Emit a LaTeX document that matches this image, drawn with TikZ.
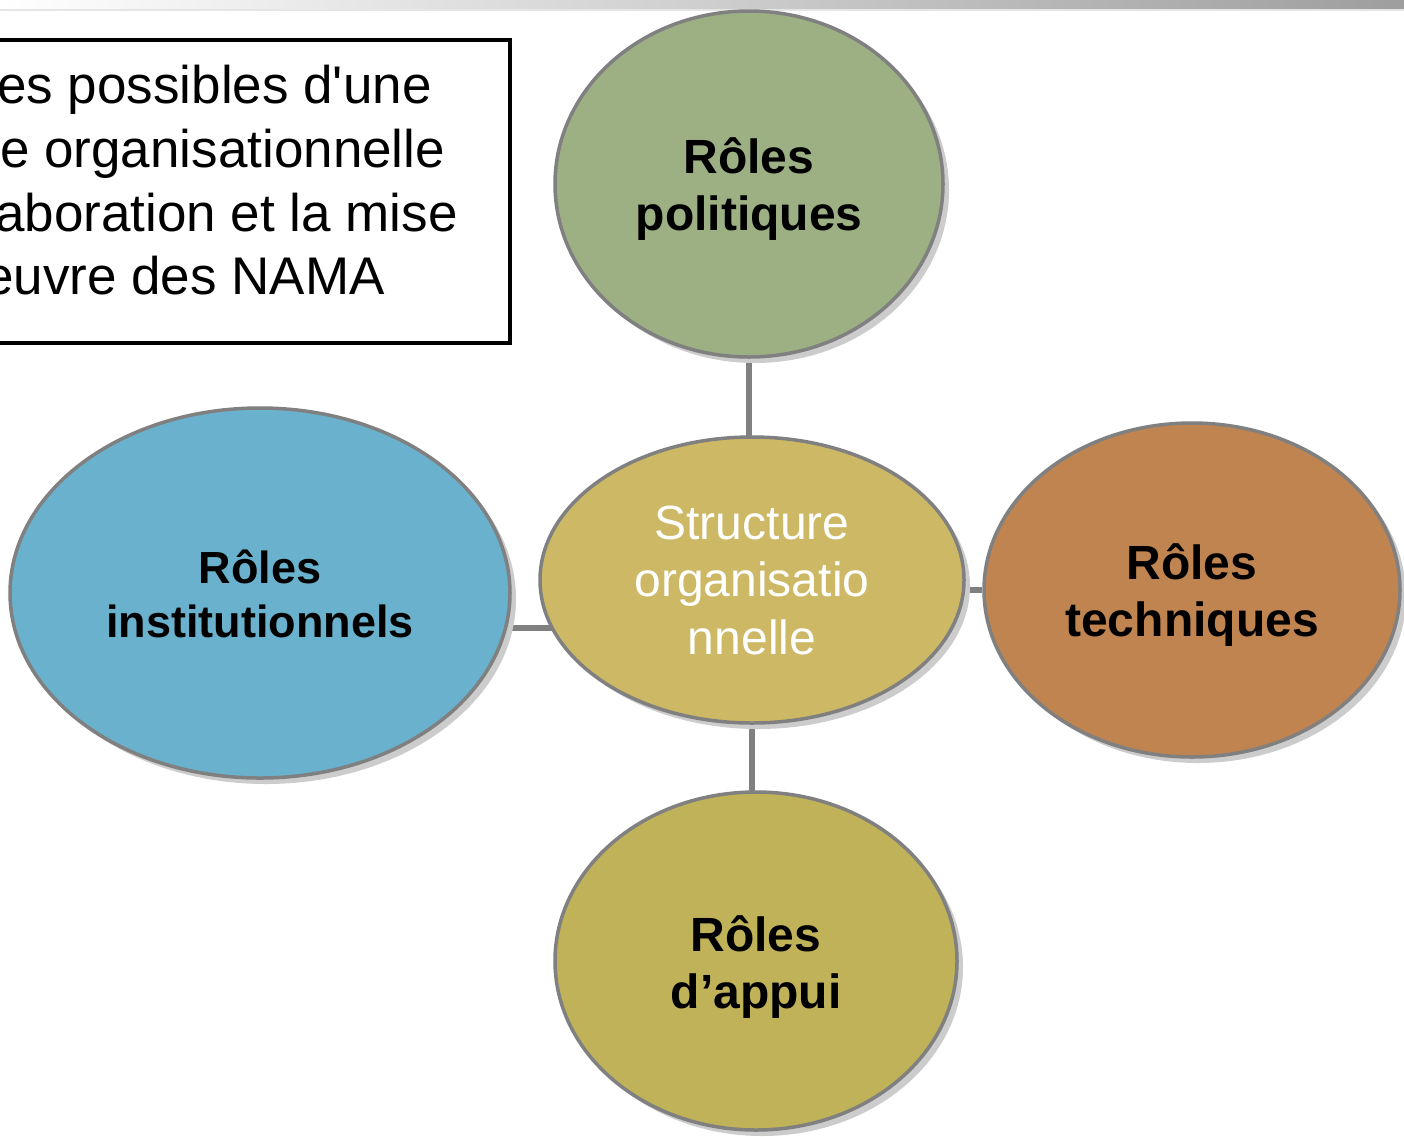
\documentclass[tikz,border=0pt]{standalone}
\usepackage{fontspec}
\setmainfont{Liberation Sans}[Ligatures=TeXOff]
\usetikzlibrary{shapes.geometric,shadows,backgrounds}
\definecolor{cpol}{RGB}{157,176,131}
\definecolor{cstr}{RGB}{205,185,101}
\definecolor{cins}{RGB}{105,177,204}
\definecolor{ctec}{RGB}{192,132,81}
\definecolor{capp}{RGB}{191,178,89}
\definecolor{cedge}{RGB}{128,128,128}
\tikzset{
  role/.style={ellipse, draw=cedge, line width=3.5pt, inner sep=0pt,
    drop shadow={shadow xshift=6pt, shadow yshift=-6pt, fill=black!20, opacity=1}},
  lab/.style={inner sep=0pt, align=center, text=black,
    font=\fontsize{48}{57}\selectfont\bfseries},
  link/.style={draw=cedge, line width=6pt},
  boxtext/.style={anchor=base west, inner sep=0pt, font=\fontsize{53}{64}\selectfont}
}
\begin{document}
\begin{tikzpicture}[x=1pt,y=-1pt]
\useasboundingbox (0,0) rectangle (1404,1136);
% top bar
\shade[left color=white, right color=black!38] (0,0) rectangle (1404,9);
\fill[black!10] (0,9) rectangle (1404,10.5);
% text box
\draw[line width=3.5pt] (-5,40) rectangle (510,343);
\node[boxtext] (t1) at (-3,103) {es possibles d'une};
\node[boxtext] (t2) at (0,167) {e organisationnelle};
\node[boxtext] (t3) at (-5,231) {aboration et la mise};
\node[boxtext] (t4) at (-16,294) {euvre des NAMA};
% ellipses
\node[role, fill=cpol, minimum width=388pt, minimum height=346pt] (pol) at (749,184) {};
\node[role, fill=cstr, minimum width=424pt, minimum height=286pt] (str) at (752,580) {};
\node[role, fill=cins, minimum width=500pt, minimum height=370pt] (ins) at (260,593) {};
\node[role, fill=ctec, minimum width=416pt, minimum height=334pt] (tec) at (1192,590) {};
\node[role, fill=capp, minimum width=402pt, minimum height=338pt] (app) at (756,961) {};
% labels
\node[lab, yshift=-5pt] (polt) at (pol) {Rôles\\politiques};
\node[lab, text=white, font=\fontsize{48}{57.5}\selectfont] (strt) at (str) {Structure\\organisatio\\nnelle};
\node[lab, font=\fontsize{45}{54}\selectfont\bfseries, yshift=-1pt] (inst) at (ins) {Rôles\\institutionnels};
\node[lab, yshift=-5.5pt] (tect) at (tec) {Rôles\\techniques};
\node[lab, yshift=-6pt] (appt) at (app) {Rôles\\d’appui};
% connectors
\begin{pgfonlayer}{background}
\fill[white] (0,10.5) rectangle (1404,1136);
\draw[link] (pol.south) -- (pol.south |- str.center);
\draw[link] (str.south) -- (str.south |- app.center);
\draw[link] (ins.-8.6) -- (ins.-8.6 -| str.center);
\draw[link] (tec.west) -- (tec.west -| str.center);
\end{pgfonlayer}
\end{tikzpicture}
\end{document}
